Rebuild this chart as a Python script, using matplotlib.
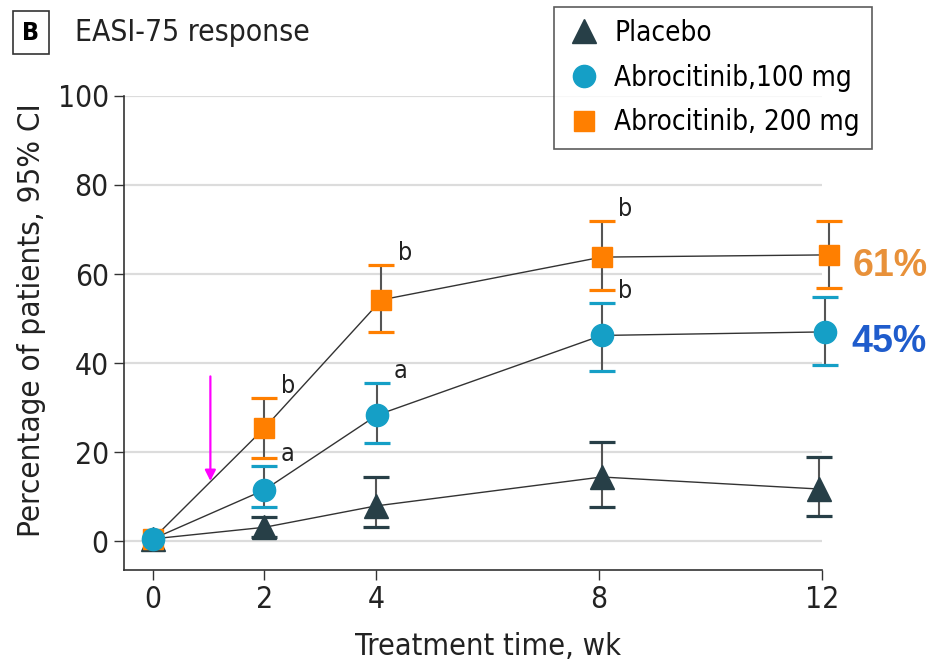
import matplotlib
matplotlib.use("Agg")
import matplotlib.pyplot as plt
from matplotlib.lines import Line2D
import numpy as np

plt.rcParams['font.family'] = ['DejaVu Sans']
plt.rcParams['font.stretch'] = 'condensed'

weeks = [0, 2, 4, 8, 12]

placebo = [0.5, 3.1, 7.9, 14.4, 11.7]
placebo_lo = [np.nan, 1.0, 3.1, 7.6, 5.6]
placebo_hi = [np.nan, 5.4, 14.4, 22.2, 18.9]

abro100 = [0.5, 11.5, 28.3, 46.2, 47.0]
abro100_lo = [np.nan, 7.7, 22.1, 38.2, 39.6]
abro100_hi = [np.nan, 16.9, 35.5, 53.5, 54.8]
abro100_sig = ['', 'a', 'a', 'b', 'b']

abro200 = [0.5, 25.4, 54.2, 63.8, 64.3]
abro200_lo = [np.nan, 18.7, 47.0, 56.4, 56.9]
abro200_hi = [np.nan, 32.1, 62.0, 71.8, 71.8]
abro200_sig = ['', 'b', 'b', 'b', 'b']

labels = ['Placebo', 'Abrocitinib,100 mg', 'Abrocitinib, 200 mg']
final_pct = ['61%', '45%']

c_plac = '#273f47'
c_100 = '#159fc6'
c_200 = '#ff7f00'

fig = plt.figure(figsize=(9.28, 6.66), dpi=100)
ax = fig.add_axes([0.1336, 0.1441, 0.752, 0.7118])

def series(y, lo, hi, color, marker, ms, dx, z):
    x = np.array(weeks) + dx
    y = np.array(y)
    err = [y - np.array(lo), np.array(hi) - y]
    ax.plot(x, y, color='#333333', lw=1.0, zorder=2, clip_on=False)
    eb = ax.errorbar(x, y, yerr=err, fmt='none', ecolor=color, capsize=9.5,
                     capthick=2.3, elinewidth=1.5, zorder=3, clip_on=False)
    for c in eb[2]:
        c.set_color('#555555')
    for c in eb[1]:
        c.set_clip_on(False)
    ax.plot(x, y, ls='none', marker=marker, ms=ms, color=color, mec=color,
            zorder=z, clip_on=False)
    return x

xp = series(placebo, placebo_lo, placebo_hi, c_plac, '^', 17, np.array([0, 0, 0, 0.05, -0.05]), 4)
x2 = series(abro200, abro200_lo, abro200_hi, c_200, 's', 15, np.array([0, 0, 0.1, 0.05, 0.12]), 5)
x1 = series(abro100, abro100_lo, abro100_hi, c_100, 'o', 16, np.array([0, 0, 0.02, 0.05, 0.05]), 6)

for x, hi, sig in [(x2, abro200_hi, abro200_sig), (x1, abro100_hi, abro100_sig)]:
    for xi, h, s in zip(x, hi, sig):
        if s:
            ax.annotate(s, (xi, h), xytext=(12, 0), textcoords='offset points',
                        fontsize=18, color='#222222', va='bottom', ha='left')

ax.annotate(final_pct[0], (x2[-1], abro200[-1]), xytext=(17, -8), textcoords='offset points',
            fontsize=27, fontweight='bold', color='#e8913a', va='center', ha='left',
            family='Liberation Sans', stretch='normal', annotation_clip=False)
ax.annotate(final_pct[1], (x1[-1], abro100[-1]), xytext=(19, -7), textcoords='offset points',
            fontsize=27, fontweight='bold', color='#1f5ccc', va='center', ha='left',
            family='Liberation Sans', stretch='normal', annotation_clip=False)

# magenta arrow
arrow_x, arrow_top, arrow_tip = 1.03, 37.0, 13.5
ax.annotate('', xy=(arrow_x, arrow_tip), xytext=(arrow_x, arrow_top),
            arrowprops=dict(arrowstyle='-|>', color='#ff00ff', lw=1.6,
                            mutation_scale=16, shrinkA=0, shrinkB=0))

ax.set_xlim(-0.52, 12)
ax.set_ylim(-6.5, 100)
ax.set_xticks(weeks)
ax.set_yticks(range(0, 101, 20))
ax.grid(axis='y', color='#dcdcdc', lw=1.6)
ax.set_axisbelow(True)
for s in ['top', 'right']:
    ax.spines[s].set_visible(False)
for s in ['left', 'bottom']:
    ax.spines[s].set_color('#333333')
    ax.spines[s].set_linewidth(1.2)
ax.tick_params(axis='both', length=7, width=1.0, color='#333333',
               labelsize=21.5, labelcolor='#222222', pad=4)
ax.set_xlabel('Treatment time, wk', fontsize=22, color='#222222', labelpad=13)
ax.set_ylabel('Percentage of patients, 95% CI', fontsize=22.5, color='#222222', labelpad=8)
ax.xaxis.label.set_x(0.522)
ax.yaxis.label.set_y(0.527)

# panel title
fig.text(0.033, 0.951, 'B', fontsize=18, fontweight='bold', va='center', ha='center',
         bbox=dict(boxstyle='square,pad=0.38', fc='white', ec='#333333', lw=1.2))
fig.text(0.081, 0.951, 'EASI-75 response', fontsize=21.5, va='center', ha='left', color='#222222')

handles = [Line2D([], [], ls='none', marker='^', ms=17, color=c_plac),
           Line2D([], [], ls='none', marker='o', ms=16, color=c_100),
           Line2D([], [], ls='none', marker='s', ms=14, color=c_200)]
leg = fig.legend(handles, labels, loc='upper right', bbox_to_anchor=(0.94, 0.99),
                 frameon=True, fancybox=False, fontsize=20, handletextpad=0.5,
                 borderpad=0.45, labelspacing=0.6, handlelength=1.2, borderaxespad=0)
leg.get_frame().set_edgecolor('#333333')
leg.get_frame().set_linewidth(1.2)

fig.savefig('out.png', dpi=100)
